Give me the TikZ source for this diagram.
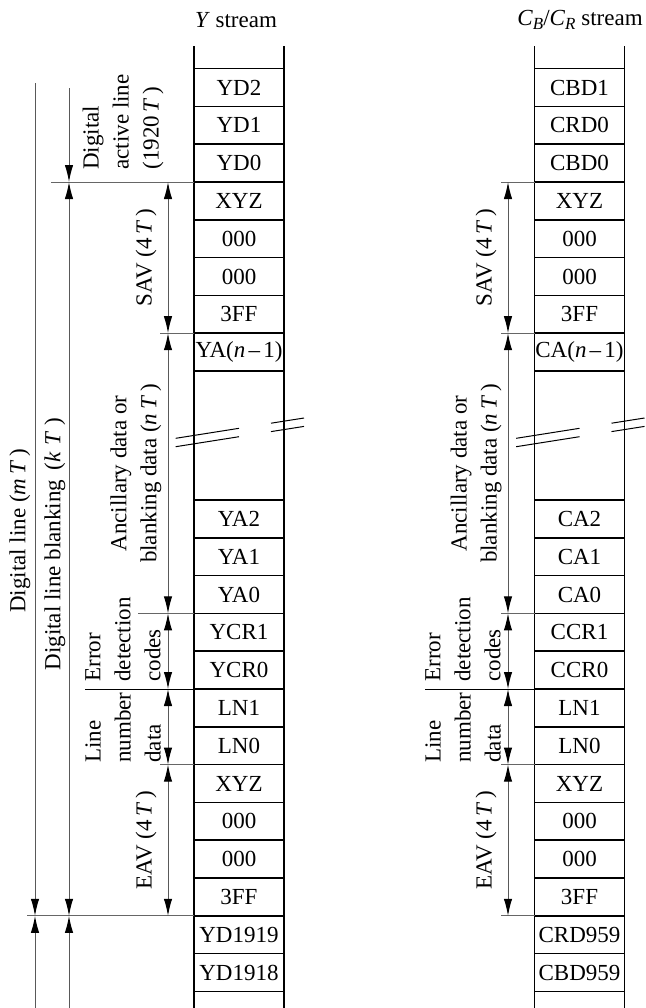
\documentclass[tikz,border=0pt]{standalone}
\usepackage{fontspec}
\setmainfont{Liberation Serif}
\usetikzlibrary{arrows.meta, positioning}

\begin{document}
\begin{tikzpicture}[
        x=0.5pt, y=-0.5pt,
        font=\fontsize{11.5}{15}\selectfont,
        cell/.style={rectangle, draw, line width=0.8pt, minimum width=45pt, minimum height=18.9pt, inner sep=0pt, outer sep=0pt},
        gapcell/.style={cell, minimum height=64.5pt},
        col/.style={line width=0.8pt},
        lbl/.style={rotate=90, inner sep=0pt, align=left, anchor=west},
        mid/.style={rotate=90, inner sep=0pt, align=center},
        extline/.style={line width=0.5pt, black!60},
        codeline/.style={line width=0.5pt, black},
        dimarrow/.style={{Latex[length=8.5pt,width=4.2pt,black]}-{Latex[length=8.5pt,width=4.2pt,black]}, line width=0.5pt, black!65},
        dimend/.style={-{Latex[length=8.5pt,width=4.2pt,black]}, line width=0.5pt, black!65},
        brk/.style={line width=0.5pt}
    ]
        \useasboundingbox (0,0) rectangle (646,1008);
        \coordinate (ytop) at (239,46);
        \coordinate (ybot) at (239,1008);
        \coordinate (ctop) at (579.5,46);
        \coordinate (cbot) at (579.5,1008);
        \coordinate (ax) at (168,0);
        \coordinate (cx) at (508,0);
        \coordinate (bx) at (69,88);
        \coordinate (mx) at (35,83);

        % headers
        \node (yhead) at (236,20) {\textit{Y} stream};
        \node (chead) at (580,20) {\textit{C}\raisebox{-0.4ex}{\fontsize{8.5}{9}\selectfont\textit{B}}/\textit{C}\raisebox{-0.4ex}{\fontsize{8.5}{9}\selectfont\textit{R}} stream};

        % Y stream
        \node[cell] (yd2) at (239,87.5) {YD2};
        \node[cell, below=0pt of yd2] (yd1) {YD1};
        \node[cell, below=0pt of yd1] (yd0) {YD0};
        \node[cell, below=0pt of yd0] (ysav3) {XYZ};
        \node[cell, below=0pt of ysav3] (ysav2) {000};
        \node[cell, below=0pt of ysav2] (ysav1) {000};
        \node[cell, below=0pt of ysav1] (ysav0) {3FF};
        \node[cell, below=0pt of ysav0] (yan) {YA(\textit{n}\kern0.14em–\kern0.14em1)};
        \node[gapcell, below=0pt of yan] (ygap) {};
        \node[cell, below=0pt of ygap] (ya2) {YA2};
        \node[cell, below=0pt of ya2] (ya1) {YA1};
        \node[cell, below=0pt of ya1] (ya0) {YA0};
        \node[cell, below=0pt of ya0] (ycr1) {YCR1};
        \node[cell, below=0pt of ycr1] (ycr0) {YCR0};
        \node[cell, below=0pt of ycr0] (yln1) {LN1};
        \node[cell, below=0pt of yln1] (yln0) {LN0};
        \node[cell, below=0pt of yln0] (yeav3) {XYZ};
        \node[cell, below=0pt of yeav3] (yeav2) {000};
        \node[cell, below=0pt of yeav2] (yeav1) {000};
        \node[cell, below=0pt of yeav1] (yeav0) {3FF};
        \node[cell, below=0pt of yeav0] (yd1919) {YD1919};
        \node[cell, below=0pt of yd1919] (yd1918) {YD1918};
        \draw[col] (yd2.north west |- ytop) -- (yd2.north west) (yd2.north east |- ytop) -- (yd2.north east);
        \draw[col] (yd1918.south west) -- (yd1918.south west |- ybot) (yd1918.south east) -- (yd1918.south east |- ybot);

        % C stream
        \node[cell] (cd2) at (579.5,87.5) {CBD1};
        \node[cell, below=0pt of cd2] (cd1) {CRD0};
        \node[cell, below=0pt of cd1] (cd0) {CBD0};
        \node[cell, below=0pt of cd0] (csav3) {XYZ};
        \node[cell, below=0pt of csav3] (csav2) {000};
        \node[cell, below=0pt of csav2] (csav1) {000};
        \node[cell, below=0pt of csav1] (csav0) {3FF};
        \node[cell, below=0pt of csav0] (can) {CA(\textit{n}\kern0.14em–\kern0.14em1)};
        \node[gapcell, below=0pt of can] (cgap) {};
        \node[cell, below=0pt of cgap] (ca2) {CA2};
        \node[cell, below=0pt of ca2] (ca1) {CA1};
        \node[cell, below=0pt of ca1] (ca0) {CA0};
        \node[cell, below=0pt of ca0] (ccr1) {CCR1};
        \node[cell, below=0pt of ccr1] (ccr0) {CCR0};
        \node[cell, below=0pt of ccr0] (cln1) {LN1};
        \node[cell, below=0pt of cln1] (cln0) {LN0};
        \node[cell, below=0pt of cln0] (ceav3) {XYZ};
        \node[cell, below=0pt of ceav3] (ceav2) {000};
        \node[cell, below=0pt of ceav2] (ceav1) {000};
        \node[cell, below=0pt of ceav1] (ceav0) {3FF};
        \node[cell, below=0pt of ceav0] (cdr) {CRD959};
        \node[cell, below=0pt of cdr] (cdb) {CBD959};
        \draw[col] (cd2.north west |- ctop) -- (cd2.north west) (cd2.north east |- ctop) -- (cd2.north east);
        \draw[col] (cdb.south west) -- (cdb.south west |- cbot) (cdb.south east) -- (cdb.south east |- cbot);

        % breaks
        \draw[brk] ([shift={(-63.3,2.8)}]ygap.center) -- ([shift={(0,-7.2)}]ygap.center)
                   ([shift={(32,-12.3)}]ygap.center) -- ([shift={(65,-17.5)}]ygap.center)
                   ([shift={(-63.3,11.2)}]ygap.center) -- ([shift={(0,1.2)}]ygap.center)
                   ([shift={(32,-3.9)}]ygap.center) -- ([shift={(65,-9.1)}]ygap.center);
        \draw[brk] ([shift={(-63.3,2.8)}]cgap.center) -- ([shift={(0,-7.2)}]cgap.center)
                   ([shift={(32,-12.3)}]cgap.center) -- ([shift={(65,-17.5)}]cgap.center)
                   ([shift={(-63.3,11.2)}]cgap.center) -- ([shift={(0,1.2)}]cgap.center)
                   ([shift={(32,-3.9)}]cgap.center) -- ([shift={(65,-9.1)}]cgap.center);

        % extension lines
        \draw[extline] (yd0.south west) -- +(-143,0);
        \draw[extline] (ysav0.south west) -- +(-34,0);
        \draw[extline] (ya0.south west) -- +(-56,0);
        \draw[codeline] (ycr0.south west) -- +(-109,0);
        \draw[extline] (yln0.south west) -- +(-34,0);
        \draw[extline] (yeav0.south west) -- +(-167,0);
        \draw[extline] (cd0.south west) -- +(-34,0);
        \draw[extline] (csav0.south west) -- +(-34,0);
        \draw[extline] (ca0.south west) -- +(-34,0);
        \draw[codeline] (ccr0.south west) -- +(-110,0);
        \draw[extline] (cln0.south west) -- +(-34,0);
        \draw[extline] (ceav0.south west) -- +(-34,0);

        % dimensions
        \draw[dimarrow] (ysav3.north -| ax) -- (ysav0.south -| ax);
        \draw[dimarrow] (yan.north -| ax) -- (ya0.south -| ax);
        \draw[dimarrow] (ycr1.north -| ax) -- (ycr0.south -| ax);
        \draw[dimarrow] (yln1.north -| ax) -- (yln0.south -| ax);
        \draw[dimarrow] (yeav3.north -| ax) -- (yeav0.south -| ax);
        \draw[dimend] (bx) -- (bx |- yd0.south);
        \draw[dimarrow] (bx |- yd0.south) -- (bx |- yeav0.south);
        \draw[dimend] (bx |- ybot) -- (bx |- yeav0.south);
        \draw[dimend] (mx) -- (mx |- yeav0.south);
        \draw[dimend] (mx |- ybot) -- (mx |- yeav0.south);
        \draw[dimarrow] (csav3.north -| cx) -- (csav0.south -| cx);
        \draw[dimarrow] (can.north -| cx) -- (ca0.south -| cx);
        \draw[dimarrow] (ccr1.north -| cx) -- (ccr0.south -| cx);
        \draw[dimarrow] (cln1.north -| cx) -- (cln0.south -| cx);
        \draw[dimarrow] (ceav3.north -| cx) -- (ceav0.south -| cx);

        % labels
        \node[mid] (ymlab) at (20,531) {Digital line (\textit{m}\,\textit{T}\,)};
        \node[mid] (yklab) at (55,544) {Digital line blanking\, (\textit{k}\;\textit{T}\;)};
        \node[lbl] (yact) at (123,170) {Digital\\active line\\(1920\,\textit{T}\,)};
        \node[mid] (ysavl) at (146,257.5) {SAV (4\,\textit{T}\,)};
        \node[mid] (yancl) at (136,473.5) {Ancillary data or\\blanking data (\textit{n}\,\textit{T}\,)};
        \node[lbl] (yerr) at (123,682) {Error\\detection\\codes};
        \node[lbl] (ylnl) at (123,763) {Line\\number\\data};
        \node[mid] (yeavl) at (146,840) {EAV (4\,\textit{T}\,)};
        \node[mid] (csavl) at (486,257.5) {SAV (4\,\textit{T}\,)};
        \node[mid] (cancl) at (476,473.5) {Ancillary data or\\blanking data (\textit{n}\,\textit{T}\,)};
        \node[lbl] (cerr) at (463,682) {Error\\detection\\codes};
        \node[lbl] (clnl) at (463,763) {Line\\number\\data};
        \node[mid] (ceavl) at (486,840) {EAV (4\,\textit{T}\,)};
    \end{tikzpicture}
\end{document}
